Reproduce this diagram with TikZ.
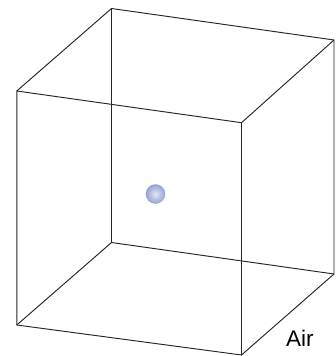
\documentclass[tikz,border=0pt]{standalone}
\usepackage{fontspec}
\setmainfont{Liberation Sans}
\begin{document}
\begin{tikzpicture}[x=1pt,y=-1pt,
  edge/.style={draw=black!85,line width=0.95pt,line join=miter},
  lbl/.style={font=\fontsize{22.5}{26}\selectfont,inner sep=0pt,anchor=base west}]
\useasboundingbox (0,0) rectangle (335,356);
% back face
\coordinate (btl) at (111.5,8.5);
\coordinate (btr) at (334,40);
\coordinate (bbl) at (111.5,242.5);
\coordinate (bbr) at (334,274);
% front face
\coordinate (ftl) at (16.8,91);
\coordinate (ftr) at (241.5,122.7);
\coordinate (fbl) at (16.8,325);
\coordinate (fbr) at (241.5,355);
\draw[edge] (btl) -- (btr) -- (bbr) -- (bbl) -- cycle;
\draw[edge] (ftl) -- (ftr) -- (fbr) -- (fbl) -- cycle;
\draw[edge] (ftl) -- (btl);
\draw[edge] (ftr) -- (btr);
\draw[edge] (fbl) -- (bbl);
\draw[edge] (fbr) -- (bbr);
\shade[inner color={rgb,255:red,225;green,230;blue,245},outer color={rgb,255:red,150;green,160;blue,210}] (155.5,194) circle (9.8);
\node[lbl] (air) at (286,346) {Air};
\end{tikzpicture}
\end{document}
